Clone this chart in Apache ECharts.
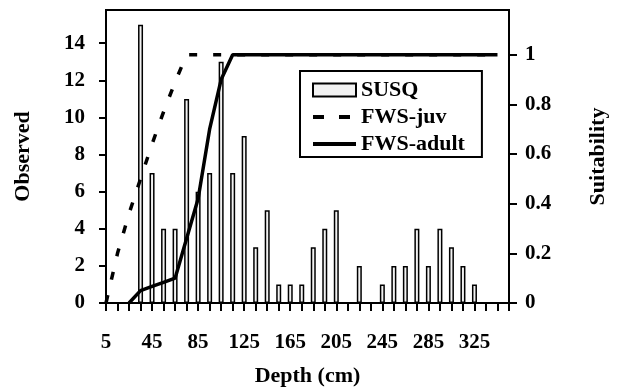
<!DOCTYPE html>
<html>
<head>
<meta charset="utf-8">
<script src="https://cdn.jsdelivr.net/npm/echarts@6/dist/echarts.min.js"></script>
<style>
  html, body { margin: 0; padding: 0; background: #fff; }
  #chart { width: 617px; height: 392px; }
</style>
</head>
<body>
<div id="chart"></div>
<script>
// Depth classes (cm) along the category axis
const depths = ['5', '15', '25', '35', '45', '55', '65', '75', '85', '95',
  '105', '115', '125', '135', '145', '155', '165', '175', '185', '195',
  '205', '215', '225', '235', '245', '255', '265', '275', '285', '295',
  '305', '315', '325', '335', '345', '355'];

// Observed counts per depth class
const susq = [0, 0, 0, 15, 7, 4, 4, 11, 6, 7,
  13, 7, 9, 3, 5, 1, 1, 1, 3, 4,
  5, 0, 2, 0, 1, 2, 2, 4, 2, 4,
  3, 2, 1, 0, 0, 0];

// Depth suitability curves
const fwsJuv = [0, 0.2, 0.36, 0.5, 0.64, 0.77, 0.89, 1, 1, 1,
  1, 1, 1, 1, 1, 1, 1, 1, 1, 1,
  1, 1, 1, 1, 1, 1, 1, 1, 1, 1,
  1, 1, 1, 1, 1, null];

const fwsAdult = [null, null, 0, 0.05, 0.067, 0.083, 0.1, 0.26, 0.42, 0.7,
  0.9, 1, 1, 1, 1, 1, 1, 1, 1, 1,
  1, 1, 1, 1, 1, 1, 1, 1, 1, 1,
  1, 1, 1, 1, 1, null];

// Tick values shown on the two value axes
const observedTicks = [0, 2, 4, 6, 8, 10, 12, 14];
const suitabilityTicks = [0, 0.2, 0.4, 0.6, 0.8, 1];

const FONT = '"Liberation Serif", "Times New Roman", serif';
const bold = (size) => ({ fontFamily: FONT, fontWeight: 'bold', fontSize: size, color: '#000' });
const black2 = { color: '#000', width: 2 };
// legend entries for the curves show only the stroke, no marker
const noMarker = { color: 'rgba(0,0,0,0)', borderColor: 'rgba(0,0,0,0)', borderWidth: 0, opacity: 0 };

const chart = echarts.init(document.getElementById('chart'), null, { renderer: 'canvas' });

chart.setOption({
  animation: false,
  textStyle: { fontFamily: FONT },
  grid: {
    left: 106, right: 106.4, top: 10, bottom: 88,
    show: true, borderColor: '#000', borderWidth: 2
  },
  legend: {
    orient: 'vertical',
    left: 300, top: 71,
    padding: [8, 17, 2, 11],
    itemWidth: 43, itemHeight: 13, itemGap: 5,
    borderColor: '#000', borderWidth: 2,
    backgroundColor: '#fff',
    textStyle: Object.assign(bold(22), { lineHeight: 22 }),
    data: [
      { name: 'SUSQ', icon: 'rect' },
      { name: 'FWS-juv', itemStyle: noMarker,
        lineStyle: { color: '#000', width: 4, type: [11, 15], cap: 'butt' } },
      { name: 'FWS-adult', itemStyle: noMarker,
        lineStyle: { color: '#000', width: 4 } }
    ]
  },
  xAxis: {
    type: 'category',
    data: depths,
    boundaryGap: false,
    name: 'Depth (cm)',
    nameLocation: 'middle',
    nameGap: 62,
    nameTextStyle: bold(22),
    axisLine: { lineStyle: black2 },
    axisTick: { interval: 0, length: 8, lineStyle: black2 },
    axisLabel: Object.assign({ interval: 3, margin: 29 }, bold(21)),
    splitLine: { show: false }
  },
  yAxis: [
    {
      type: 'value', position: 'left',
      min: 0, max: 15.79,
      name: 'Observed',
      nameLocation: 'middle', nameRotate: 90, nameGap: 72,
      nameTextStyle: bold(22),
      axisLine: { show: true, lineStyle: black2 },
      axisTick: { show: true, length: 7, customValues: observedTicks, lineStyle: black2 },
      axisLabel: Object.assign({ customValues: observedTicks, margin: 21 }, bold(21)),
      splitLine: { show: false }
    },
    {
      type: 'value', position: 'right',
      min: 0, max: 1.18,
      name: 'Suitability',
      nameLocation: 'middle', nameRotate: 90, nameGap: 78,
      nameTextStyle: bold(22),
      axisLine: { show: true, lineStyle: black2 },
      axisTick: { show: true, length: 8, customValues: suitabilityTicks, lineStyle: black2 },
      axisLabel: Object.assign({ customValues: suitabilityTicks, margin: 16 }, bold(21)),
      splitLine: { show: false }
    }
  ],
  series: [
    {
      name: 'SUSQ',
      type: 'bar',
      yAxisIndex: 0,
      data: susq,
      barWidth: 5,
      itemStyle: { color: '#f2f2f2', borderColor: '#000', borderWidth: 1.5 }
    },
    {
      name: 'FWS-juv',
      type: 'line',
      yAxisIndex: 1,
      data: fwsJuv,
      symbol: 'none',
      lineStyle: { color: '#000', width: 3.5, type: [8, 16], cap: 'butt' },
      itemStyle: { color: '#000' },
      z: 3
    },
    {
      name: 'FWS-adult',
      type: 'line',
      yAxisIndex: 1,
      data: fwsAdult,
      symbol: 'none',
      lineStyle: { color: '#000', width: 3.5 },
      itemStyle: { color: '#000' },
      z: 4
    }
  ]
});
</script>
</body>
</html>
